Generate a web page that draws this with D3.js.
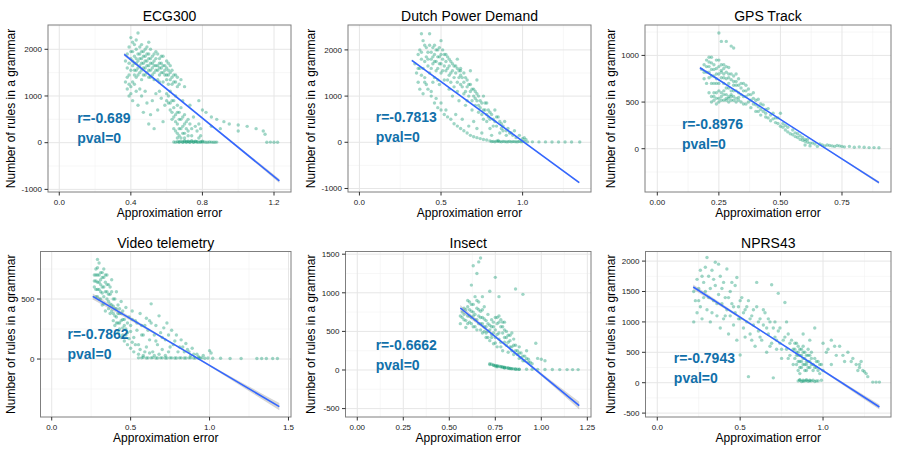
<!DOCTYPE html>
<html>
<head>
<meta charset="utf-8">
<script src="https://cdn.jsdelivr.net/npm/d3@7"></script>
<style>
  body { margin: 0; background: #fff; }
  svg { font-family: "Liberation Sans", Arial, sans-serif; }
</style>
</head>
<body>
<div id="chart"></div>
<script>
const titles = ["ECG300", "Dutch Power Demand", "GPS Track", "Video telemetry", "Insect", "NPRS43"];
const rLabels = ["r=-0.689", "r=-0.7813", "r=-0.8976", "r=-0.7862", "r=-0.6662", "r=-0.7943"];
const pLabels = ["pval=0", "pval=0", "pval=0", "pval=0", "pval=0", "pval=0"];

const xTicks = [[0, 0.4, 0.8, 1.2], [0, 0.5, 1], [0, 0.25, 0.5, 0.75], [0, 0.5, 1, 1.5], [0, 0.25, 0.5, 0.75, 1, 1.25], [0, 0.5, 1]];
const xTickLabels = [["0.0", "0.4", "0.8", "1.2"], ["0.0", "0.5", "1.0"], ["0.00", "0.25", "0.50", "0.75"], ["0.0", "0.5", "1.0", "1.5"], ["0.00", "0.25", "0.50", "0.75", "1.00", "1.25"], ["0.0", "0.5", "1.0"]];
const yTicks = [[-1000, 0, 1000, 2000], [-1000, 0, 1000, 2000], [0, 500, 1000], [0, 500], [-500, 0, 500, 1000, 1500], [-500, 0, 500, 1000, 1500, 2000]];

// regression line ends and the half width of its band
const fitX = [[0.363, 1.23], [0.321, 1.347], [0.173, 0.90], [0.26, 1.442], [0.56, 1.206], [0.217, 1.34]];
const fitY = [[1893, -820], [1775, -874], [868, -364], [522, -397], [803, -462], [1574, -400]];
const fitSe = [[35, 45], [15, 20], [12, 15], [25, 30], [40, 50], [40, 40]];

const ecgPoints = [
  [0.37,1750],[0.38,1900],[0.38,1600],[0.39,2050],[0.39,1450],[0.40,1800],[0.40,2250],[0.41,1950],[0.41,1650],[0.41,1300],
  [0.42,2100],[0.42,1850],[0.42,1550],[0.43,2000],[0.43,1700],[0.43,1400],[0.44,1900],[0.44,1600],[0.44,2350],[0.45,1800],
  [0.45,2050],[0.45,1500],[0.46,1700],[0.46,1950],[0.46,1350],[0.47,1850],[0.47,1600],[0.48,1750],[0.48,2000],[0.48,1450],
  [0.49,1650],[0.49,1900],[0.50,1550],[0.50,1800],[0.50,2150],[0.51,1700],[0.51,1400],[0.52,1600],[0.52,1850],[0.53,1500],
  [0.53,1750],[0.54,1650],[0.54,1950],[0.55,1550],[0.55,1350],[0.56,1700],[0.56,1450],[0.57,1600],[0.57,1850],[0.58,1500],
  [0.58,1300],[0.59,1650],[0.60,1450],[0.60,1750],[0.61,1550],[0.61,1250],[0.62,1650],[0.63,1400],[0.63,1550],[0.64,1300],
  [0.65,1450],[0.66,1200],[0.68,1350],[0.70,1200],
  [0.39,1700],[0.40,1550],[0.40,1950],[0.41,1750],[0.41,2150],[0.42,1450],[0.42,1700],[0.43,1800],[0.43,1550],[0.43,2200],
  [0.44,1750],[0.44,1450],[0.45,1650],[0.45,1900],[0.46,1550],[0.46,1800],[0.46,2100],[0.47,1700],[0.47,1950],[0.47,1450],
  [0.48,1850],[0.48,1600],[0.49,1750],[0.49,1500],[0.49,2050],[0.50,1650],[0.50,1900],[0.50,1400],[0.51,1800],[0.51,1550],
  [0.51,2000],[0.52,1700],[0.52,1450],[0.53,1650],[0.53,1900],[0.53,1350],[0.54,1550],[0.54,1800],[0.55,1650],[0.55,1900],
  [0.56,1600],[0.56,1800],[0.56,1300],[0.57,1500],[0.57,1700],[0.58,1650],[0.58,1850],[0.59,1450],[0.59,1550],[0.60,1600],
  [0.60,1350],[0.61,1450],[0.61,1700],[0.62,1500],[0.62,1350],[0.63,1250],[0.64,1450],[0.65,1300],[0.66,1400],[0.67,1250],
  [0.37,1300],[0.38,1150],[0.39,1000],[0.40,1200],[0.41,900],[0.43,1100],[0.44,800],[0.46,1000],[0.47,650],[0.49,850],
  [0.50,400],[0.51,600],[0.53,300],[0.54,1050],[0.55,700],[0.57,950],[0.58,450],
  [0.38,1400],[0.39,1250],[0.40,1050],[0.42,1250],[0.45,1150],[0.48,1100],[0.52,900],[0.56,1100],[0.59,800],
  [0.60,1050],[0.61,850],[0.62,700],[0.62,1100],[0.63,500],[0.63,900],[0.64,300],[0.64,750],[0.65,600],[0.65,1000],
  [0.66,400],[0.66,200],[0.66,800],[0.67,650],[0.67,300],[0.68,500],[0.68,100],[0.69,900],[0.69,350],[0.70,200],
  [0.70,600],[0.71,450],[0.72,150],[0.73,800],[0.74,300],[0.75,550],[0.77,250],[0.78,400],[0.79,150],[0.80,700],
  [0.60,900],[0.61,1000],[0.62,850],[0.63,650],[0.64,550],[0.64,900],[0.65,450],[0.65,250],[0.66,650],[0.66,100],
  [0.67,500],[0.67,150],[0.68,750],[0.68,300],[0.69,550],[0.69,200],[0.70,400],[0.70,100],[0.71,300],[0.72,500],
  [0.72,250],[0.73,400],[0.74,150],[0.76,350],[0.78,100],[0.79,300],
  [0.78,900],[0.82,650],[0.85,550],[0.88,500],[0.92,450],[0.95,400],[1.00,380],[1.05,350],[1.10,300],[1.14,250],
  [1.15,180],[0.90,300],[1.00,250],[0.85,350],
  [0.64,15],[0.66,20],[0.67,10],[0.68,25],[0.69,15],[0.70,20],[0.71,10],[0.72,20],[0.73,15],[0.74,25],[0.75,10],
  [0.76,20],[0.77,15],[0.78,10],[0.79,20],[0.80,15],[0.82,10],[0.84,15],[0.86,10],[0.88,12],[1.16,10],[1.18,12],
  [1.20,10],[1.22,8],[0.70,40],[0.74,45],
  [0.65,10],[0.67,20],[0.69,10],[0.71,20],[0.73,10],[0.75,15],[0.77,20],[0.79,12],[0.81,15],[0.83,10],[0.85,12],
  [0.87,10],[0.72,30],[0.76,30],[0.80,30]
];

const dutchPoints = [
  [0.34,1700],[0.35,1500],[0.36,1900],[0.36,1300],[0.37,2000],[0.37,1150],[0.38,1800],[0.38,2350],[0.39,1600],[0.39,1050],
  [0.40,2100],[0.40,1400],[0.41,1850],[0.41,1250],[0.42,1950],[0.42,1650],[0.43,2350],[0.43,1500],[0.44,1800],[0.44,1100],
  [0.45,2050],[0.45,1700],[0.46,1900],[0.46,1400],[0.47,1750],[0.47,950],[0.48,2000],[0.48,1600],[0.49,1850],[0.49,1250],
  [0.50,1700],[0.50,2200],[0.50,850],[0.51,1550],[0.52,1900],[0.52,1350],[0.53,1750],[0.53,700],[0.54,1600],[0.55,1800],
  [0.55,1150],[0.56,1500],[0.57,1700],[0.57,1000],[0.58,1400],[0.59,1650],[0.59,600],[0.60,1300],[0.61,1550],[0.61,900],
  [0.62,1450],[0.63,1200],[0.63,500],[0.64,1500],[0.65,1100],[0.65,800],[0.66,1350],[0.67,1000],[0.67,350],[0.68,1250],
  [0.69,700],[0.70,1150],[0.70,450],[0.71,950],[0.72,1050],[0.72,300],[0.73,800],[0.74,900],[0.75,600],[0.75,200],
  [0.76,1000],[0.77,700],[0.78,450],[0.78,850],[0.79,550],[0.80,300],[0.80,650],[0.81,150],[0.82,500],[0.83,700],
  [0.84,350],[0.85,550],[0.86,200],[0.87,400],[0.88,250],[0.89,450],[0.90,150],[0.91,300],[0.93,200],[0.95,250],
  [0.96,100],[0.98,150],[1.00,80],[1.01,100],[1.02,60],
  [0.37,1600],[0.45,1300],[0.55,1450],[0.60,1800],[0.68,1550],[0.72,1350],[0.62,1600],
  [0.38,1950],[0.39,2200],[0.40,1750],[0.41,2050],[0.42,1800],[0.43,2100],[0.44,1950],[0.44,1600],[0.45,1850],[0.46,2100],
  [0.46,1750],[0.47,2000],[0.47,1550],[0.48,1850],[0.48,1350],[0.49,1700],[0.49,2050],[0.50,1900],[0.50,1500],[0.51,1800],
  [0.51,2000],[0.52,1650],[0.53,1900],[0.53,1550],[0.54,1850],[0.54,1350],[0.55,1650],[0.56,1750],[0.56,1300],[0.57,1550],
  [0.58,1650],[0.58,1200],[0.59,1500],[0.60,1600],[0.60,1100],[0.61,1400],[0.62,1550],[0.62,1250],[0.63,1400],[0.64,1300],
  [0.64,1050],[0.65,1400],[0.66,1200],[0.66,900],[0.67,1250],[0.68,1100],[0.69,1150],[0.69,900],[0.70,1000],[0.71,1100],
  [0.71,800],[0.72,900],[0.73,1000],[0.73,650],[0.74,750],[0.75,850],[0.76,700],[0.76,500],[0.77,850],[0.78,600],
  [0.79,700],[0.80,500],[0.81,600],[0.82,350],[0.83,450],[0.84,550],[0.86,450],[0.87,300],[0.88,350],[0.90,250],
  [0.92,200],[0.94,150],
  [0.36,1600],[0.38,1450],[0.40,1300],[0.42,1150],[0.44,1000],[0.46,850],[0.48,750],[0.50,700],[0.52,600],[0.54,550],
  [0.56,500],[0.58,400],[0.60,350],[0.62,300],[0.64,250],[0.66,200],[0.68,150],[0.70,120],[0.72,100],[0.74,80],[0.76,60],
  [0.80,30],[0.82,20],[0.84,25],[0.86,15],[0.88,20],[0.90,10],[0.92,20],[0.94,15],[0.96,10],[0.98,20],[1.00,15],
  [1.03,10],[1.06,10],[1.10,8],[1.14,8],[1.18,6],[1.22,6],[1.26,5],[1.30,5],[1.35,5],[0.85,40],[0.78,50],
  [0.81,15],[0.83,10],[0.85,20],[0.87,10],[0.89,15],[0.91,12],[0.93,10],[0.95,15],[0.97,12],[0.99,10],[1.01,20]
];

const gpsPoints = [
  [0.18,850],[0.19,900],[0.19,750],[0.20,950],[0.20,820],[0.20,700],[0.21,880],[0.21,980],[0.21,600],[0.22,920],
  [0.22,780],[0.22,500],[0.23,850],[0.23,700],[0.23,560],[0.24,950],[0.24,800],[0.24,480],[0.25,1240],[0.25,880],
  [0.25,620],[0.25,540],[0.26,1150],[0.26,760],[0.26,840],[0.27,900],[0.27,700],[0.27,520],[0.28,1150],[0.28,820],
  [0.28,580],[0.29,760],[0.29,650],[0.29,500],[0.30,1100],[0.30,800],[0.30,560],[0.31,1080],[0.31,720],[0.31,620],
  [0.32,680],[0.32,540],[0.33,750],[0.33,600],[0.34,650],[0.34,500],[0.35,700],[0.35,560],[0.36,620],[0.36,480],
  [0.37,580],[0.38,520],[0.38,440],[0.39,600],[0.40,470],[0.40,400],[0.41,530],[0.42,420],[0.42,360],[0.43,470],
  [0.44,380],[0.45,330],[0.45,430],[0.46,300],[0.47,380],[0.48,280],[0.49,330],[0.50,240],[0.50,380],[0.51,270],
  [0.52,200],[0.53,230],[0.54,160],[0.55,200],[0.56,130],[0.57,160],[0.58,100],[0.59,120],[0.60,80],[0.61,100],
  [0.62,60],
  [0.24,700],[0.26,900],[0.27,800],[0.22,850],[0.29,870],[0.32,800],[0.21,760],[0.23,600],[0.28,650],[0.33,550],
  [0.19,820],[0.20,880],[0.21,820],[0.21,930],[0.22,700],[0.22,980],[0.23,780],[0.23,900],[0.24,860],[0.24,600],
  [0.24,750],[0.25,800],[0.25,700],[0.25,950],[0.26,820],[0.26,600],[0.26,520],[0.27,860],[0.27,620],[0.27,760],
  [0.28,750],[0.28,540],[0.28,880],[0.29,700],[0.29,560],[0.29,800],[0.30,740],[0.30,620],[0.30,520],[0.31,680],
  [0.31,560],[0.31,780],[0.32,620],[0.32,500],[0.32,720],[0.33,680],[0.33,520],[0.34,580],[0.34,700],[0.35,620],
  [0.35,480],[0.36,560],[0.36,680],[0.37,500],[0.37,640],[0.38,580],[0.39,480],[0.39,540],[0.40,520],[0.41,450],
  [0.41,400],[0.42,480],[0.43,400],[0.44,420],[0.44,340],[0.46,360],[0.47,320],[0.48,330],[0.49,270],[0.51,230],
  [0.52,250],[0.53,180],[0.55,150],[0.56,170],[0.57,120],[0.58,140],[0.59,90],[0.60,100],[0.61,70],[0.63,60],
  [0.66,50],[0.69,40],[0.71,30],[0.73,35],[0.75,25],
  [0.22,560],[0.23,520],[0.24,540],[0.25,500],[0.26,560],[0.27,580],[0.28,520],[0.29,540],[0.30,580],[0.31,520],
  [0.60,40],[0.62,30],[0.64,50],[0.65,25],[0.67,40],[0.68,30],[0.70,35],[0.72,25],[0.74,30],[0.76,20],[0.78,25],
  [0.80,15],[0.82,20],[0.84,15],[0.86,12],[0.88,12],[0.90,10]
];

const videoPoints = [
  [0.27,700],[0.27,600],[0.28,750],[0.28,520],[0.28,650],[0.29,830],[0.29,580],[0.29,700],[0.30,800],[0.30,640],
  [0.30,500],[0.31,720],[0.31,560],[0.32,680],[0.32,600],[0.32,450],[0.33,750],[0.33,520],[0.34,640],[0.34,400],
  [0.35,700],[0.35,560],[0.36,480],[0.36,620],[0.37,380],[0.37,540],[0.38,660],[0.38,450],[0.39,320],[0.39,500],
  [0.40,420],[0.40,280],[0.41,560],[0.41,350],[0.42,450],[0.42,220],[0.43,380],[0.43,300],[0.44,480],[0.44,180],
  [0.45,400],[0.45,260],[0.46,150],[0.46,330],[0.47,430],[0.48,220],[0.48,120],[0.49,350],[0.50,280],[0.50,90],
  [0.51,400],[0.52,180],[0.52,60],[0.53,320],[0.54,240],[0.55,120],[0.55,40],[0.56,380],[0.57,280],[0.58,200],
  [0.58,30],[0.60,340],[0.60,100],[0.61,240],[0.62,160],[0.63,460],[0.63,300],[0.64,60],[0.65,200],[0.66,280],
  [0.67,120],[0.68,360],[0.69,220],[0.70,80],[0.71,260],[0.72,160],[0.73,300],[0.74,200],[0.75,100],[0.76,240],
  [0.78,150],[0.79,200],[0.80,60],[0.82,160],[0.83,100],[0.85,130],[0.87,60],[0.89,90],[0.92,40],[0.96,30],
  [1.00,70],[1.01,50],
  [0.27,650],[0.28,700],[0.28,580],[0.29,640],[0.29,760],[0.29,520],[0.30,700],[0.30,580],[0.31,660],[0.31,620],
  [0.31,500],[0.32,720],[0.32,550],[0.33,600],[0.33,680],[0.33,460],[0.34,560],[0.34,700],[0.35,500],[0.35,620],
  [0.36,540],[0.36,420],[0.37,600],[0.37,460],[0.38,400],[0.38,560],[0.39,440],[0.39,380],[0.40,360],[0.40,500],
  [0.41,300],[0.41,420],[0.42,380],[0.42,300],[0.43,250],[0.43,420],[0.44,320],[0.44,380],[0.45,200],[0.45,330],
  [0.46,280],[0.47,250],[0.47,200],[0.48,300],[0.49,170],[0.50,230],[0.51,140],[0.51,330],[0.53,120],[0.54,300],
  [0.56,80],[0.57,200],[0.59,60],[0.59,280],[0.62,50],[0.62,320],[0.65,30],[0.66,150],[0.68,40],[0.70,180],
  [0.72,30],[0.74,60],[0.77,120],[0.81,100],[0.84,60],[0.86,80],[0.88,30],[0.90,40],[0.93,20],
  [0.55,10],[0.58,15],[0.61,10],[0.64,12],[0.67,8],[0.70,10],[0.73,8],[0.76,10],[0.79,8],[0.82,10],[0.85,8],
  [0.88,10],[0.91,8],[0.94,10],[0.97,6],[1.02,6],[1.07,6],[1.13,5],[1.20,5],[1.30,5],[1.33,5],[1.36,5],[1.40,5],[1.43,5],
  [0.57,10],[0.60,8],[0.63,10],[0.66,8],[0.69,10],[0.72,8],[0.75,10],[0.78,8],[0.81,10],[0.84,8],[0.87,10],
  [0.90,8],[0.93,8],[0.95,10],[0.99,8]
];

const insectPoints = [
  [0.56,700],[0.56,600],[0.57,750],[0.58,650],[0.58,800],[0.59,550],[0.60,700],[0.60,900],[0.61,620],[0.61,780],
  [0.62,1100],[0.62,680],[0.62,850],[0.63,1350],[0.63,560],[0.63,750],[0.64,950],[0.64,650],[0.65,1250],[0.65,800],
  [0.65,520],[0.66,1400],[0.66,700],[0.66,880],[0.67,1450],[0.67,600],[0.67,760],[0.68,480],[0.68,680],[0.68,950],
  [0.69,560],[0.69,820],[0.70,420],[0.70,640],[0.71,500],[0.71,720],[0.72,1020],[0.72,380],[0.72,580],[0.73,460],
  [0.73,650],[0.74,340],[0.74,560],[0.75,1200],[0.75,680],[0.75,420],[0.76,600],[0.76,300],[0.77,950],[0.77,700],
  [0.77,480],[0.78,650],[0.78,360],[0.79,560],[0.79,250],[0.80,620],[0.80,420],[0.81,320],[0.81,500],[0.82,450],
  [0.82,230],[0.83,380],[0.84,300],[0.84,480],[0.85,200],[0.85,400],[0.86,1050],[0.86,320],[0.87,250],[0.88,150],
  [0.88,300],[0.89,220],[0.90,980],[0.90,120],[0.91,180],[0.92,150],[0.93,100],[0.95,80],[0.97,346],[0.98,150],
  [1.00,140],[1.02,120],[0.92,250],
  [0.57,680],[0.58,720],[0.59,640],[0.59,780],[0.60,600],[0.60,820],[0.61,700],[0.61,880],[0.62,760],[0.62,600],
  [0.63,700],[0.63,850],[0.64,720],[0.64,560],[0.65,650],[0.65,900],[0.66,600],[0.66,780],[0.67,680],[0.67,520],
  [0.68,600],[0.68,780],[0.69,500],[0.69,660],[0.70,560],[0.70,480],[0.71,600],[0.71,420],[0.72,520],[0.73,420],
  [0.73,560],[0.74,480],[0.74,620],[0.75,520],[0.75,350],[0.76,680],[0.76,460],[0.77,620],[0.77,400],[0.78,560],
  [0.78,300],[0.79,480],[0.79,620],[0.80,360],[0.80,520],[0.81,420],[0.82,360],[0.83,300],[0.83,450],[0.84,250],
  [0.85,320],[0.86,250],[0.87,200],[0.88,220],[0.89,160],[0.90,180],[0.91,120],[0.93,140],[0.94,100],
  [0.72,80],[0.73,75],[0.74,65],[0.75,60],[0.76,55],[0.77,50],[0.78,45],[0.79,40],[0.80,35],[0.81,30],[0.82,25],
  [0.83,20],[0.84,18],[0.85,15],[0.86,12],[0.87,10],[0.88,10],[0.76,40],[0.80,25],
  [0.72,70],[0.74,60],[0.76,50],[0.78,40],[0.80,30],[0.82,22],[0.84,15],[0.86,10],[0.88,8],[0.75,50],[0.79,35],[0.83,20],
  [0.92,10],[0.95,8],[0.98,8],[1.02,6],[1.06,6],[1.10,5],[1.14,5],[1.17,5],[1.20,5]
];

const nprsPoints = [
  [0.22,1500],[0.22,1000],[0.23,1350],[0.24,1700],[0.24,1150],[0.25,1550],[0.26,1850],[0.26,1250],[0.27,1050],[0.28,1650],
  [0.28,1400],[0.29,1900],[0.30,2060],[0.30,1200],[0.31,1750],[0.32,1550],[0.32,1000],[0.33,1850],[0.34,1350],[0.35,1980],
  [0.35,1600],[0.36,1100],[0.37,1950],[0.37,1450],[0.38,1750],[0.38,900],[0.39,1300],[0.40,1650],[0.40,1050],[0.41,1400],
  [0.42,1870],[0.42,1200],[0.43,800],[0.44,1500],[0.44,1100],[0.45,1300],[0.46,950],[0.47,1600],[0.47,1150],[0.48,1730],
  [0.48,700],[0.49,1250],[0.50,455],[0.50,1050],[0.51,1400],[0.52,900],[0.53,1200],[0.54,1000],[0.55,1350],[0.55,100],
  [0.56,800],[0.57,1100],[0.58,950],[0.59,600],[0.60,1650],[0.60,1250],[0.61,850],[0.62,1050],[0.63,700],[0.64,950],
  [0.65,1150],[0.66,500],[0.67,800],[0.68,1000],[0.69,1610],[0.69,650],[0.70,80],[0.70,900],[0.71,750],[0.72,550],
  [0.73,1470],[0.73,850],[0.74,650],[0.75,400],[0.76,700],[0.77,1320],[0.78,550],[0.79,800],[0.80,450],[0.80,650],
  [0.25,1350],[0.27,1750],[0.29,1500],[0.31,1400],[0.33,1150],[0.34,1700],[0.36,1300],[0.39,1550],[0.41,1100],[0.43,1400],
  [0.45,1650],[0.46,1250],[0.49,1050],[0.50,1350],[0.52,1150],[0.53,750],[0.54,1250],[0.56,1050],[0.57,700],[0.58,1200],
  [0.61,1000],[0.62,750],[0.64,1200],[0.66,900],[0.67,1050],[0.68,600],[0.71,1000],[0.72,700],[0.74,900],[0.75,550],
  [0.77,750],[0.78,1000],[0.79,400],[0.81,700],[0.82,300],
  [0.82,550],[0.83,400],[0.83,650],[0.84,300],[0.84,500],[0.85,450],[0.85,600],[0.85,200],[0.86,350],[0.86,550],
  [0.87,450],[0.87,250],[0.88,400],[0.88,600],[0.89,300],[0.89,500],[0.90,350],[0.90,200],[0.91,450],[0.91,250],
  [0.92,350],[0.93,300],[0.93,500],[0.94,200],[0.95,400],[0.96,250],[0.97,350],[0.98,150],[0.99,300],[1.00,200],
  [0.86,150],[0.88,800],[0.92,700],
  [0.83,550],[0.84,450],[0.84,650],[0.85,350],[0.85,500],[0.86,450],[0.86,250],[0.87,550],[0.87,350],[0.88,300],
  [0.88,500],[0.89,400],[0.89,200],[0.90,450],[0.90,300],[0.91,350],[0.91,550],[0.92,250],[0.92,450],[0.93,400],
  [0.94,300],[0.95,250],[0.96,350],[0.97,200],[0.98,300],
  [0.85,30],[0.86,50],[0.87,20],[0.88,40],[0.89,30],[0.90,50],[0.91,25],[0.92,40],[0.93,30],[0.95,20],[0.97,30],[0.99,40],
  [0.86,40],[0.88,25],[0.90,35],[0.92,30],[0.94,40],[0.96,30],
  [1.00,650],[1.03,550],[1.05,700],[1.08,450],[1.10,600],[1.13,350],[1.15,500],[1.18,400],[1.20,300],[1.22,250],
  [1.24,200],[1.26,150],[1.27,100],[1.23,350],[1.30,10],[1.32,10],[1.34,10],[1.05,300],[0.95,900],
  [1.02,500],[1.07,600],[1.12,450],[1.17,350],[1.21,200],[1.25,180],[1.22,300]
];

const pointSets = [ecgPoints, dutchPoints, gpsPoints, videoPoints, insectPoints, nprsPoints];

// panel boxes in pixels and the axis ranges they show
const panels = [
  { col: 0,   left: 48,    right: 291, top: 25,    bottom: 192, xDomain: [-0.063, 1.295], yDomain: [-1056, 2520] },
  { col: 300, left: 348,   right: 591, top: 25,    bottom: 192, xDomain: [-0.070, 1.419], yDomain: [-1076, 2539] },
  { col: 600, left: 645,   right: 891, top: 25,    bottom: 192, xDomain: [-0.050, 0.949], yDomain: [-464, 1326] },
  { col: 0,   left: 40.5,  right: 291, top: 251.5, bottom: 417, xDomain: [-0.071, 1.516], yDomain: [-483, 896] },
  { col: 300, left: 345.5, right: 591, top: 251.5, bottom: 417, xDomain: [-0.064, 1.270], yDomain: [-609, 1535] },
  { col: 600, left: 645.5, right: 891, top: 251.5, bottom: 417, xDomain: [-0.071, 1.410], yDomain: [-564, 2158] }
];

const svg = d3.select('#chart')
  .append('svg')
  .attr('width', 900)
  .attr('height', 450);

function minorTicks(ticks, domain) {
  const step = ticks[1] - ticks[0];
  const out = [];
  for (let t = ticks[0] - step; t <= ticks[ticks.length - 1] + step; t += step) {
    const m = t + step / 2;
    if (m > domain[0] && m < domain[1]) out.push(m);
  }
  return out;
}

function drawPanel(i) {
  const p = panels[i];
  const x = d3.scaleLinear().domain(p.xDomain).range([p.left, p.right]);
  const y = d3.scaleLinear().domain(p.yDomain).range([p.bottom, p.top]);
  const g = svg.append('g');

  g.append('clipPath').attr('id', 'clip' + i)
    .append('rect')
    .attr('x', p.left).attr('y', p.top)
    .attr('width', p.right - p.left).attr('height', p.bottom - p.top);

  // grid
  g.selectAll('.minorx').data(minorTicks(xTicks[i], p.xDomain)).enter().append('line')
    .attr('x1', d => x(d)).attr('x2', d => x(d)).attr('y1', p.top).attr('y2', p.bottom)
    .attr('stroke', '#f2f2f2').attr('stroke-width', 0.6);
  g.selectAll('.minory').data(minorTicks(yTicks[i], p.yDomain)).enter().append('line')
    .attr('y1', d => y(d)).attr('y2', d => y(d)).attr('x1', p.left).attr('x2', p.right)
    .attr('stroke', '#f2f2f2').attr('stroke-width', 0.6);
  g.selectAll('.majorx').data(xTicks[i]).enter().append('line')
    .attr('x1', d => x(d)).attr('x2', d => x(d)).attr('y1', p.top).attr('y2', p.bottom)
    .attr('stroke', '#e6e6e6').attr('stroke-width', 1);
  g.selectAll('.majory').data(yTicks[i]).enter().append('line')
    .attr('y1', d => y(d)).attr('y2', d => y(d)).attr('x1', p.left).attr('x2', p.right)
    .attr('stroke', '#e6e6e6').attr('stroke-width', 1);

  const inner = g.append('g').attr('clip-path', 'url(#clip' + i + ')');

  inner.selectAll('circle').data(pointSets[i]).enter().append('circle')
    .attr('cx', d => x(d[0]))
    .attr('cy', d => y(d[1]))
    .attr('r', 1.7)
    .attr('fill', '#1b9e77')
    .attr('opacity', 0.42);

  // fit band and line
  const fx = fitX[i], fy = fitY[i], se = fitSe[i];
  const xm = (fx[0] + fx[1]) / 2, ym = (fy[0] + fy[1]) / 2;
  const band = [
    { x: fx[0], lo: fy[0] - se[0], hi: fy[0] + se[0] },
    { x: xm, lo: ym - se[0] / 4, hi: ym + se[1] / 4 },
    { x: fx[1], lo: fy[1] - se[1], hi: fy[1] + se[1] }
  ];
  inner.append('path').datum(band)
    .attr('d', d3.area().x(d => x(d.x)).y0(d => y(d.lo)).y1(d => y(d.hi)).curve(d3.curveMonotoneX))
    .attr('fill', '#999').attr('opacity', 0.4);
  inner.append('line')
    .attr('x1', x(fx[0])).attr('y1', y(fy[0]))
    .attr('x2', x(fx[1])).attr('y2', y(fy[1]))
    .attr('stroke', '#3366ff').attr('stroke-width', 1.6);

  // annotation
  g.append('text').attr('x', x(0.1)).attr('y', y(0) - 20)
    .attr('font-size', 14).attr('font-weight', 'bold').attr('fill', '#1170aa')
    .text(rLabels[i]);
  g.append('text').attr('x', x(0.1)).attr('y', y(0))
    .attr('font-size', 14).attr('font-weight', 'bold').attr('fill', '#1170aa')
    .text(pLabels[i]);

  // border
  g.append('rect')
    .attr('x', p.left).attr('y', p.top)
    .attr('width', p.right - p.left).attr('height', p.bottom - p.top)
    .attr('fill', 'none').attr('stroke', '#7f7f7f').attr('stroke-width', 1);

  // ticks and labels
  g.selectAll('.xt').data(xTicks[i]).enter().append('line')
    .attr('x1', d => x(d)).attr('x2', d => x(d)).attr('y1', p.bottom).attr('y2', p.bottom + 3.5)
    .attr('stroke', '#333');
  g.selectAll('.xl').data(xTicks[i]).enter().append('text')
    .attr('x', d => x(d)).attr('y', p.bottom + 12.5)
    .attr('text-anchor', 'middle').attr('font-size', 8).attr('fill', '#222')
    .text((d, j) => xTickLabels[i][j]);
  g.selectAll('.yt').data(yTicks[i]).enter().append('line')
    .attr('y1', d => y(d)).attr('y2', d => y(d)).attr('x1', p.left - 3.5).attr('x2', p.left)
    .attr('stroke', '#333');
  g.selectAll('.yl').data(yTicks[i]).enter().append('text')
    .attr('x', p.left - 6).attr('y', d => y(d)).attr('dy', '0.35em')
    .attr('text-anchor', 'end').attr('font-size', 8).attr('fill', '#222')
    .text(d => d);

  // titles
  g.append('text')
    .attr('x', (p.left + p.right) / 2).attr('y', p.top - 4)
    .attr('text-anchor', 'middle').attr('font-size', 14)
    .text(titles[i]);
  g.append('text')
    .attr('x', (p.left + p.right) / 2).attr('y', p.bottom + 25)
    .attr('text-anchor', 'middle').attr('font-size', 12)
    .text('Approximation error');
  g.append('text')
    .attr('transform', 'translate(' + (p.col + 14.5) + ',' + ((p.top + p.bottom) / 2) + ') rotate(-90)')
    .attr('text-anchor', 'middle').attr('font-size', 12)
    .text('Number of rules in a grammar');
}

titles.forEach((t, i) => drawPanel(i));
</script>
</body>
</html>
